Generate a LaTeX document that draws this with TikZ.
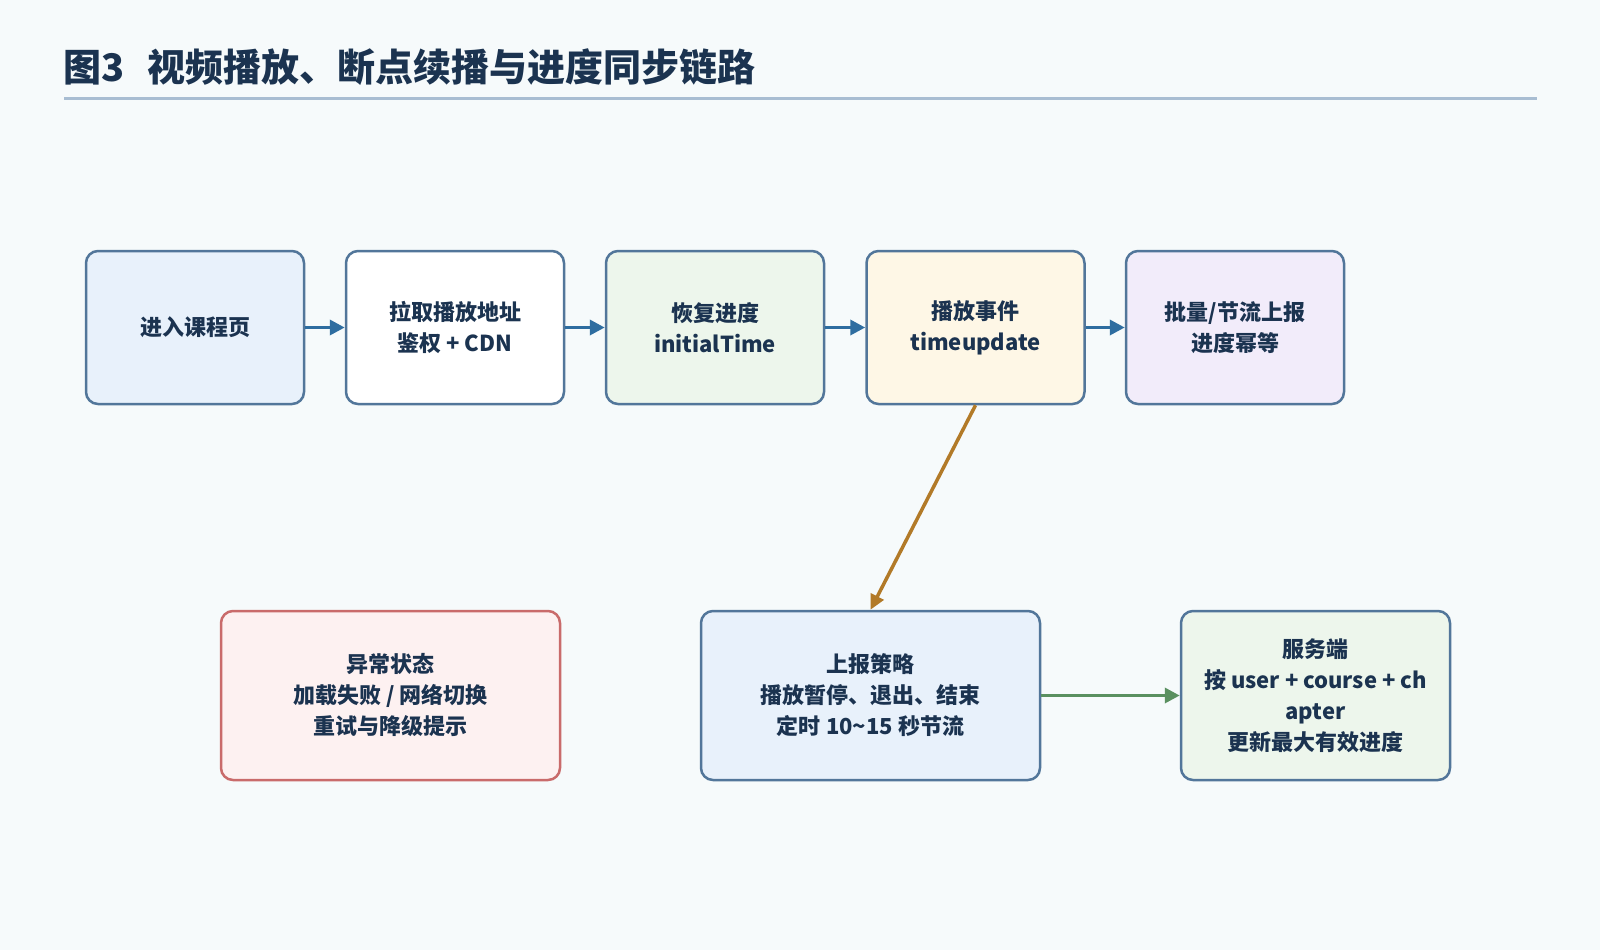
\documentclass[tikz,border=0pt]{standalone}
\usepackage{fontspec}
\setmainfont{Noto Sans CJK SC}
\usetikzlibrary{arrows.meta}
\definecolor{bg}{HTML}{F6FAFB}
\definecolor{txt}{HTML}{1B3350}
\definecolor{bord}{HTML}{52769A}
\definecolor{errbord}{HTML}{C96B6B}
\definecolor{rule}{HTML}{A8BDD2}
\definecolor{flowblue}{HTML}{2E6DA0}
\definecolor{orangearr}{HTML}{B27A28}
\definecolor{greenarr}{HTML}{5A9060}
\definecolor{fblue}{HTML}{E8F1FB}
\definecolor{fgreen}{HTML}{EDF6EC}
\definecolor{fyellow}{HTML}{FEF7E6}
\definecolor{fpurple}{HTML}{F2ECFA}
\definecolor{fred}{HTML}{FDF1F1}
\tikzset{
  box/.style={draw=bord, line width=2.5pt, rounded corners=12pt, align=center,
    text=txt, font=\bfseries\fontsize{22}{31}\selectfont, inner sep=0pt},
  topbox/.style={box, minimum width=218pt, minimum height=153pt},
  botbox/.style={box, minimum height=169pt},
  flow/.style={draw=flowblue, line width=3.5pt, -{Triangle[length=15pt,width=15pt]}},
  oflow/.style={draw=orangearr, line width=3.5pt, -{Triangle[length=15pt,width=14pt]}},
  gflow/.style={draw=greenarr, line width=3.5pt, -{Triangle[length=15pt,width=15pt]}}
}
\begin{document}
\begin{tikzpicture}[x=1pt,y=-1pt]
\useasboundingbox (0,0) rectangle (1600,950);
\fill[bg] (0,0) rectangle (1600,950);
\node[anchor=west, text=txt, font=\bfseries\fontsize{38}{40}\selectfont, inner sep=0pt] (title) at (63,67) {图3\hspace{0.6em}视频播放、断点续播与进度同步链路};
\coordinate (rl) at (64,98);
\coordinate (rr) at (1537,98);
\draw[rule, line width=3pt] (rl) -- (rr);

\node[topbox, fill=fblue] (b1) at (195,327.5) {进入课程页};
\node[topbox, fill=white] (b2) at (455,327.5) {拉取播放地址\\鉴权\ +\ CDN};
\node[topbox, fill=fgreen] (b3) at (715,327.5) {恢复进度\\initialTime};
\node[topbox, fill=fyellow] (b4) at (975.5,327.5) {播放事件\\timeupdate};
\node[topbox, fill=fpurple] (b5) at (1235,327.5) {批量/节流上报\\进度幂等};

\node[botbox, fill=fred, draw=errbord, minimum width=339pt] (err) at (390.5,695.5) {异常状态\\加载失败\ /\ 网络切换\\重试与降级提示};
\node[botbox, fill=fblue, minimum width=339pt] (strat) at (870.5,695.5) {上报策略\\播放暂停、退出、结束\\定时 10\textasciitilde15 秒节流};
\node[botbox, fill=fgreen, minimum width=269pt] (srv) at (1315.5,695.5) {服务端\\按 user\ +\ course\ +\ ch\\apter\\更新最大有效进度};

\draw[flow] (b1.east) -- (b2.west);
\draw[flow] (b2.east) -- (b3.west);
\draw[flow] (b3.east) -- (b4.west);
\draw[flow] (b4.east) -- (b5.west);
\draw[oflow] (b4.south) -- (strat.north);
\draw[gflow] (strat.east) -- (srv.west);
\end{tikzpicture}
\end{document}
